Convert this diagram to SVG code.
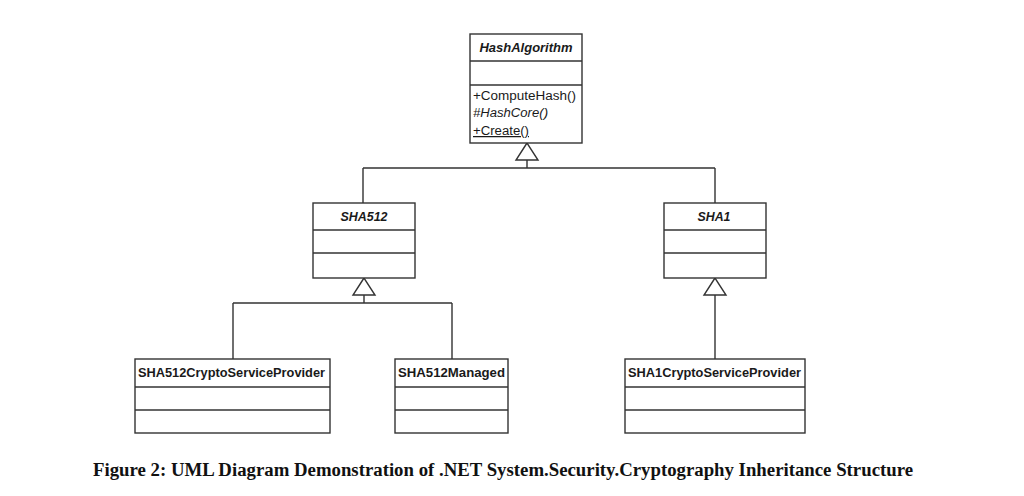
<svg xmlns="http://www.w3.org/2000/svg" width="1024" height="496" viewBox="0 0 1024 496">
<defs>
<style>
.box{fill:#fff;stroke:#333;stroke-width:1.4}
.div{stroke:#333;stroke-width:1.4}
.cn{font-family:"Liberation Sans",Arial,sans-serif;font-size:12.5px;font-weight:bold;fill:#1a1a1a}
.ab{font-style:italic}
.m{font-family:"Liberation Sans",Arial,sans-serif;font-size:12.5px;fill:#1a1a1a}
.ln{fill:none;stroke:#333;stroke-width:1.4}
.tri{fill:#fff;stroke:#333;stroke-width:1.4}
.cap{font-family:"Liberation Serif","Times New Roman",serif;font-size:18px;font-weight:bold;fill:#111}
</style>
</defs>
<rect width="1024" height="496" fill="#fff"/>
<g id="connectors">
<path class="ln" d="M527,160 V168 M363,168 H715 M363,168 V203 M715,168 V203"/>
<polygon class="tri" points="527,143 516,160 538,160"/>
<path class="ln" d="M364,295 V303 M233,303 H452 M233,303 V359 M452,303 V359"/>
<polygon class="tri" points="364,278 353,295 375,295"/>
<path class="ln" d="M715,295 V359"/>
<polygon class="tri" points="715,278 704,295 726,295"/>
</g>
<g id="HashAlgorithm">
<rect class="box" x="470" y="34" width="112" height="109"/>
<line class="div" x1="470" y1="61" x2="582" y2="61"/>
<line class="div" x1="470" y1="85" x2="582" y2="85"/>
<text class="cn ab" x="526" y="52" text-anchor="middle" textLength="93" lengthAdjust="spacingAndGlyphs">HashAlgorithm</text>
<text class="m" x="473" y="100" textLength="103" lengthAdjust="spacingAndGlyphs">+ComputeHash()</text>
<text class="m" x="473" y="117" font-style="italic" textLength="75" lengthAdjust="spacingAndGlyphs">#HashCore()</text>
<text class="m" x="473" y="135" text-decoration="underline" textLength="56" lengthAdjust="spacingAndGlyphs">+Create()</text>
</g>
<g id="SHA512">
<rect class="box" x="313" y="203" width="102" height="75"/>
<line class="div" x1="313" y1="230" x2="415" y2="230"/>
<line class="div" x1="313" y1="253" x2="415" y2="253"/>
<text class="cn ab" x="364" y="221" text-anchor="middle" textLength="47" lengthAdjust="spacingAndGlyphs">SHA512</text>
</g>
<g id="SHA1">
<rect class="box" x="664" y="203" width="102" height="75"/>
<line class="div" x1="664" y1="230" x2="766" y2="230"/>
<line class="div" x1="664" y1="253" x2="766" y2="253"/>
<text class="cn ab" x="714" y="221" text-anchor="middle" textLength="33" lengthAdjust="spacingAndGlyphs">SHA1</text>
</g>
<g id="SHA512CryptoServiceProvider">
<rect class="box" x="135" y="359" width="195" height="74"/>
<line class="div" x1="135" y1="387" x2="330" y2="387"/>
<line class="div" x1="135" y1="410" x2="330" y2="410"/>
<text class="cn" x="138" y="377" textLength="187" lengthAdjust="spacingAndGlyphs">SHA512CryptoServiceProvider</text>
</g>
<g id="SHA512Managed">
<rect class="box" x="395" y="359" width="113" height="74"/>
<line class="div" x1="395" y1="387" x2="508" y2="387"/>
<line class="div" x1="395" y1="410" x2="508" y2="410"/>
<text class="cn" x="398" y="377" textLength="107" lengthAdjust="spacingAndGlyphs">SHA512Managed</text>
</g>
<g id="SHA1CryptoServiceProvider">
<rect class="box" x="625" y="359" width="180" height="74"/>
<line class="div" x1="625" y1="387" x2="805" y2="387"/>
<line class="div" x1="625" y1="410" x2="805" y2="410"/>
<text class="cn" x="628" y="377" textLength="173" lengthAdjust="spacingAndGlyphs">SHA1CryptoServiceProvider</text>
</g>
<text class="cap" x="93" y="476" textLength="820" lengthAdjust="spacingAndGlyphs">Figure 2: UML Diagram Demonstration of .NET System.Security.Cryptography Inheritance Structure</text>
</svg>
